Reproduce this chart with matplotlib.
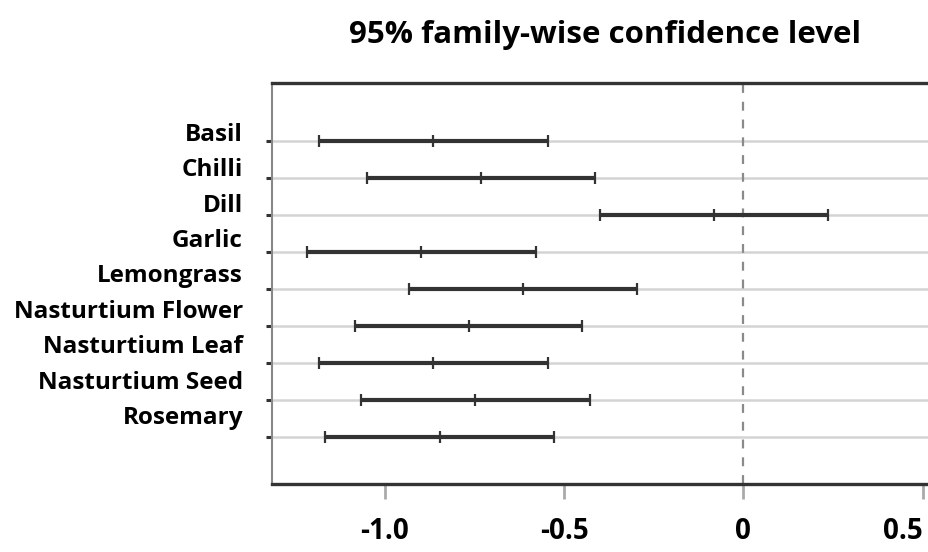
import numpy as np
import matplotlib
matplotlib.use("Agg")
import matplotlib.pyplot as plt

plt.rcParams['font.family'] = ['Open Sans', 'DejaVu Sans']
plt.rcParams['font.weight'] = 'bold'

# comparisons, top to bottom
herbs = ['Basil', 'Chilli', 'Dill', 'Garlic', 'Lemongrass', 'Nasturtium Flower',
         'Nasturtium Leaf', 'Nasturtium Seed', 'Rosemary']
diff = [-0.865, -0.733, -0.082, -0.898, -0.616, -0.766, -0.865, -0.749, -0.847]
lwr = [-1.183, -1.051, -0.400, -1.216, -0.933, -1.083, -1.183, -1.067, -1.167]
upr = [-0.546, -0.413, 0.237, -0.579, -0.298, -0.449, -0.546, -0.428, -0.529]
xticks = [-1.0, -0.5, 0, 0.5]
xticklabels = ['-1.0', '-0.5', '0', '0.5']

W, H = 929, 552
fig = plt.figure(figsize=(W / 100, H / 100), dpi=100)
ax = fig.add_axes([272 / W, 1 - 484 / H, 1 - 272 / W, (484 - 83) / H])

n = len(herbs)
ypos = np.arange(n, 0, -1)

# light row lines
for y in ypos:
    ax.axhline(y, color='#d4d4d4', lw=1.8, zorder=1)
ax.axvline(0, color='#8a8a8a', lw=1.6, ls=(0, (4, 4)), zorder=2)

ax.hlines(ypos, lwr, upr, color='#333333', lw=3, zorder=3)
ax.plot(lwr, ypos, ls='none', marker='|', ms=9, mew=1.6, color='#333333', zorder=4)
ax.plot(upr, ypos, ls='none', marker='|', ms=9, mew=1.6, color='#333333', zorder=4)
ax.plot(diff, ypos, ls='none', marker='|', ms=9, mew=1.6, color='#333333', zorder=4)

ax.set_xlim(-1.315, 0.518)
ax.set_ylim(-0.27, 10.57)

ax.set_xticks(xticks)
ax.set_xticklabels(xticklabels, fontsize=20, fontweight='bold')
ax.get_xticklabels()[-1].set_ha('right')  # last one is pushed in from the edge
ax.tick_params(axis='x', direction='out', length=11, width=2, color='#aaaaaa', pad=13)
ax.set_yticks(ypos)
ax.set_yticklabels([])
ax.tick_params(axis='y', direction='out', length=4.5, width=2.2, color='#333333')

for s in ['top', 'bottom']:
    ax.spines[s].set_color('#333333')
    ax.spines[s].set_linewidth(2.4)
ax.spines['left'].set_color('#888888')
ax.spines['left'].set_linewidth(1.5)
ax.spines['right'].set_visible(False)

# category labels sit a bit off the rows, as in the original
label_y = np.linspace(135, 418, n)
for name, py in zip(herbs, label_y):
    fig.text(243 / W, 1 - py / H, name, ha='right', va='center', fontsize=17.5, fontweight='bold')

fig.text(605 / W, 1 - 35 / H, '95% family-wise confidence level', ha='center', va='center',
         fontsize=22.5, fontweight='bold')

fig.savefig('out.png', dpi=100)
